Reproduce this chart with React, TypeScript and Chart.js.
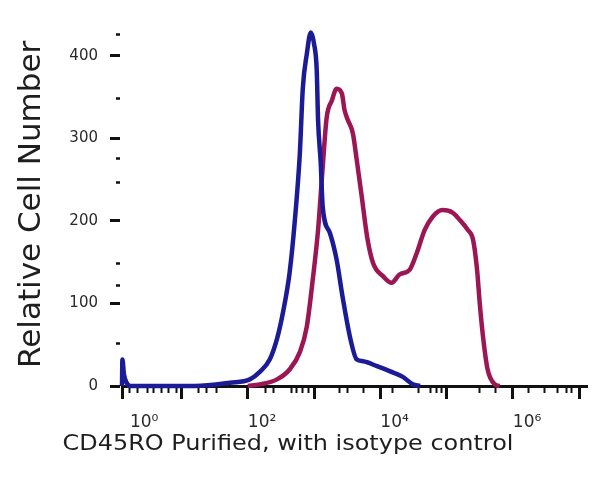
import { useEffect, useRef } from 'react';
import { Chart, registerables } from 'chart.js';

Chart.register(...registerables);

// Isotype control (blue) histogram, x in display decades
const blueX = [0.1, 0.106, 0.13, 0.17, 0.23, 1.2, 1.73, 2.03, 2.18, 2.33, 2.44, 2.53, 2.63, 2.71, 2.785, 2.83, 2.89, 2.95, 3.0, 3.04, 3.06, 3.1, 3.13, 3.24, 3.34, 3.43, 3.54, 3.645, 3.74, 3.95, 4.14, 4.34, 4.49, 4.6];
const blueY = [0, 32, 14, 4, 0, 0, 4, 8, 17, 32, 57, 89, 137, 201, 282, 361, 402, 428, 414, 382, 322, 270, 217, 185, 153, 108, 60, 32, 30, 24, 18, 11, 2, 0];

// CD45RO stained (magenta) histogram
const redX = [2.0, 2.18, 2.44, 2.63, 2.785, 2.89, 2.98, 3.06, 3.13, 3.19, 3.27, 3.34, 3.42, 3.46, 3.51, 3.585, 3.645, 3.72, 3.8, 3.89, 4.04, 4.17, 4.29, 4.445, 4.55, 4.67, 4.79, 4.94, 5.09, 5.2, 5.32, 5.4, 5.46, 5.5, 5.55, 5.62, 5.73, 5.8];
const redY = [0, 2, 8, 20, 41, 72, 129, 189, 265, 325, 346, 360, 354, 334, 322, 306, 273, 229, 181, 149, 133, 125, 135, 141, 161, 189, 205, 213, 210, 201, 189, 177, 141, 101, 60, 20, 2, 0];

const yMajorTicks = [0, 100, 200, 300, 400];
const yMinorTicks = [51, 122, 148, 247, 275, 348, 425];

const xMajorTicks = [0.1, 1, 2, 3, 4, 5, 6, 7];
const xMinorTicks = [0.34, 0.48, 0.57, 0.7, 0.8, 0.92, 1.25, 1.38, 1.53, 2.26, 2.38, 2.66, 2.74, 2.83, 2.91, 3.39, 3.51, 3.74, 4.19, 4.57, 4.75, 4.85, 4.93, 5.5, 5.74, 6.23, 6.48, 6.68, 6.81, 6.89];
const xLabelValues = [0.22, 2, 4, 6];
const xLabelTexts = ['10⁰', '10²', '10⁴', '10⁶'];

const xTitle = 'CD45RO Purified, with isotype control';
const yTitle = 'Relative Cell Number';

const FONT = '"DejaVu Sans", sans-serif';

const xTitlePlugin = {
  id: 'xTitlePlugin',
  afterDraw(chart: any) {
    const { ctx, chartArea } = chart;
    ctx.save();
    ctx.font = `21px ${FONT}`;
    ctx.fillStyle = '#1e1e1e';
    ctx.textAlign = 'center';
    ctx.textBaseline = 'alphabetic';
    ctx.translate(chart.width * 0.48, chartArea.bottom + 64);
    ctx.scale(1.14, 1);
    ctx.fillText(xTitle, 0, 0);
    ctx.restore();
  },
};

export default function App() {
  const ref = useRef<HTMLCanvasElement>(null);

  useEffect(() => {
    const xTickValues = Array.from(new Set([...xMajorTicks, ...xMinorTicks, ...xLabelValues])).sort((a, b) => a - b);
    const yTickValues = [...yMajorTicks, ...yMinorTicks].sort((a, b) => a - b);
    const isXMajor = (v: number) => xMajorTicks.includes(v);
    const isYMajor = (v: number) => yMajorTicks.includes(v);

    const chart = new Chart(ref.current!, {
      type: 'line',
      data: {
        datasets: [
          {
            label: 'Isotype control',
            data: blueX.map((x, i) => ({ x, y: blueY[i] })),
            borderColor: '#1b1b98',
            borderWidth: 4.5,
            pointRadius: 0,
            fill: false,
            cubicInterpolationMode: 'monotone',
            clip: 4,
          },
          {
            label: 'CD45RO Purified',
            data: redX.map((x, i) => ({ x, y: redY[i] })),
            borderColor: '#9c1654',
            borderWidth: 4.5,
            pointRadius: 0,
            fill: false,
            cubicInterpolationMode: 'monotone',
            clip: 4,
          },
        ],
      },
      options: {
        animation: false,
        responsive: true,
        maintainAspectRatio: false,
        layout: { padding: { top: 22.6, right: 13, left: 0, bottom: 0 } },
        plugins: {
          legend: { display: false },
          tooltip: { enabled: false },
        },
        scales: {
          x: {
            type: 'linear',
            min: 0.1,
            max: 7.12,
            bounds: 'data',
            afterBuildTicks: (s: any) => {
              s.ticks = xTickValues.map((v) => ({ value: v }));
            },
            afterFit: (s: any) => {
              s.height = 107;
            },
            grid: {
              drawOnChartArea: false,
              drawTicks: true,
              tickLength: 13,
              color: '#111',
              tickColor: '#111',
              tickWidth: (c: any) => (isXMajor(c.tick?.value) ? 3 : 2),
              tickBorderDash: (c: any) => (isXMajor(c.tick?.value) ? [] : [5, 30]),
            },
            border: { display: true, color: '#111', width: 3 },
            ticks: {
              autoSkip: false,
              maxRotation: 0,
              minRotation: 0,
              align: 'start',
              padding: 13,
              color: '#2a2a2a',
              font: { family: FONT, size: 17 },
              callback: (v: any) => {
                const idx = xLabelValues.indexOf(Number(v));
                return idx >= 0 ? xLabelTexts[idx] : '';
              },
            },
          },
          y: {
            type: 'linear',
            min: 0,
            max: 440,
            bounds: 'data',
            afterBuildTicks: (s: any) => {
              s.ticks = yTickValues.map((v) => ({ value: v }));
            },
            afterFit: (s: any) => {
              s.width = 122;
            },
            grid: {
              drawOnChartArea: false,
              drawTicks: true,
              tickLength: 12,
              color: '#111',
              tickColor: '#111',
              tickWidth: (c: any) => (isYMajor(c.tick?.value) ? 3 : 2.5),
              tickBorderDash: (c: any) => (isYMajor(c.tick?.value) ? [] : [0, 6, 4, 10]),
            },
            border: { display: true, color: 'rgba(0,0,0,0)', width: 4 },
            title: {
              display: true,
              text: yTitle,
              color: '#1e1e1e',
              font: { family: FONT, size: 31 },
              padding: { top: 13, bottom: 0 },
            },
            ticks: {
              autoSkip: false,
              padding: 12,
              color: '#2a2a2a',
              font: { family: FONT, size: 15 },
              callback: (v: any) => (yMajorTicks.includes(Number(v)) ? String(v) : ''),
            },
          },
        },
      },
      plugins: [xTitlePlugin],
    } as any);

    return () => chart.destroy();
  }, []);

  return (
    <div style={{ position: 'fixed', left: 0, top: 0, width: 600, height: 493 }}>
      <canvas ref={ref} />
    </div>
  );
}
